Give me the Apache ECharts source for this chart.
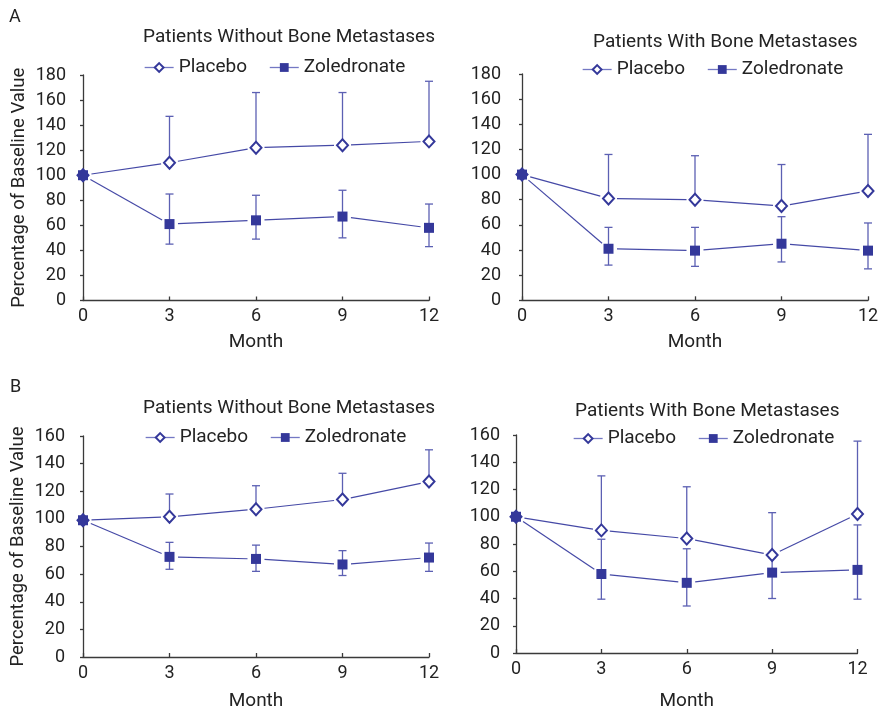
<!DOCTYPE html>
<html>
<head>
<meta charset="utf-8">
<script src="https://cdn.jsdelivr.net/npm/echarts@6/dist/echarts.min.js"></script>
<style>
html,body{margin:0;padding:0;background:#fff;}
#chart{width:883px;height:712px;}
</style>
</head>
<body>
<div id="chart"></div>
<script>
// ---- data ----
var months = [0, 3, 6, 9, 12];

// Panel A, patients without bone metastases
var aNoPlacebo   = [100, 110, 122, 124, 127];
var aNoPlaceboHi = [100, 147, 166, 166, 175];
var aNoZol       = [100, 61, 64, 67, 58];
var aNoZolHi     = [100, 85, 84, 88, 77];
var aNoZolLo     = [100, 45, 49, 50, 43];

// Panel A, patients with bone metastases
var aMetPlacebo   = [100, 81, 80, 75, 87];
var aMetPlaceboHi = [100, 116, 115, 108, 132];
var aMetZol       = [100, 41, 39.5, 45, 39.5];
var aMetZolHi     = [100, 58, 58, 66.5, 61.5];
var aMetZolLo     = [100, 28, 27, 30.5, 25];

// Panel B, patients without bone metastases
var bNoPlacebo   = [99, 101.5, 107, 114, 127];
var bNoPlaceboHi = [99, 118, 124, 133, 150];
var bNoZol       = [99, 72.5, 71, 67, 72];
var bNoZolHi     = [99, 83, 81, 77, 82.5];
var bNoZolLo     = [99, 63.5, 62, 59, 62];

// Panel B, patients with bone metastases
var bMetPlacebo   = [100, 90, 84, 72, 102];
var bMetPlaceboHi = [100, 130, 122, 103, 155.5];
var bMetZol       = [100, 58, 51.5, 59, 61];
var bMetZolHi     = [100, 83.5, 76.5, 70, 94];
var bMetZolLo     = [100, 39.5, 34.5, 40, 39.5];

var titleNo = 'Patients Without Bone Metastases';
var titleMet = 'Patients With Bone Metastases';
var yName = 'Percentage of Baseline Value';
var xName = 'Month';
var seriesNames = ['Placebo', 'Zoledronate'];

// ---- style ----
var FONT = 'Roboto';
var TXT = '#232323';
var AX = '#3a3a3a';
var MARK = '#34389a';
var LINE = '#4549a6';
var ERR = '#5c60b3';

var panels = [
  {pl: aNoPlacebo, plHi: aNoPlaceboHi, zo: aNoZol, zoHi: aNoZolHi, zoLo: aNoZolLo, ymax: 180,
   grid: {left: 83, top: 75, width: 346, height: 225.5}, off: 14, title: titleNo, tl: 138, tt: 23, lgl: 139, lgt: 53, yname: true, xgap: 32},
  {pl: aMetPlacebo, plHi: aMetPlaceboHi, zo: aMetZol, zoHi: aMetZolHi, zoLo: aMetZolLo, ymax: 180,
   grid: {left: 522, top: 74, width: 346, height: 226.3}, off: 18, title: titleMet, tl: 588, tt: 28, lgl: 577, lgt: 55, yname: false, xgap: 32},
  {pl: bNoPlacebo, plHi: bNoPlaceboHi, zo: bNoZol, zoHi: bNoZolHi, zoLo: bNoZolLo, ymax: 160,
   grid: {left: 83, top: 436, width: 346, height: 226.3}, off: 15, title: titleNo, tl: 138, tt: 394, lgl: 140, lgt: 423, yname: true, xgap: 35},
  {pl: bMetPlacebo, plHi: bMetPlaceboHi, zo: bMetZol, zoHi: bMetZolHi, zoLo: bMetZolLo, ymax: 160,
   grid: {left: 516, top: 435, width: 341.5, height: 222.7}, off: 13, title: titleMet, tl: 570, tt: 397, lgl: 568, lgt: 424, yname: false, xgap: 39}
];

function pairs(ys) { return months.map(function (m, i) { return [m, ys[i]]; }); }
function segs(ys) {
  var out = [];
  for (var i = 1; i < months.length; i++) out.push([months[i - 1], ys[i - 1], months[i], ys[i]]);
  return out;
}
function errData(mean, lo, hi) { return months.map(function (m, i) { return [m, mean[i], lo[i], hi[i]]; }); }

// connecting segment, shortened at both ends so it stops short of the markers
function segRender(params, api) {
  var p0 = api.coord([api.value(0), api.value(1)]);
  var p1 = api.coord([api.value(2), api.value(3)]);
  var dx = p1[0] - p0[0], dy = p1[1] - p0[1];
  var len = Math.sqrt(dx * dx + dy * dy);
  var g = 8.5;
  if (len <= 2 * g) return null;
  var ux = dx / len, uy = dy / len;
  return {type: 'line',
    shape: {x1: p0[0] + ux * g, y1: p0[1] + uy * g, x2: p1[0] - ux * g, y2: p1[1] - uy * g},
    style: {stroke: LINE, lineWidth: 1.2}};
}

function errRender(params, api) {
  var x = api.value(0), m = api.value(1), lo = api.value(2), hi = api.value(3);
  var pm = api.coord([x, m]);
  var hw = 4;
  var st = {stroke: ERR, lineWidth: 1.3};
  var ch = [];
  if (hi > m) {
    var ph = api.coord([x, hi]);
    ch.push({type: 'line', shape: {x1: pm[0], y1: pm[1], x2: ph[0], y2: ph[1]}, style: st});
    ch.push({type: 'line', shape: {x1: ph[0] - hw, y1: ph[1], x2: ph[0] + hw, y2: ph[1]}, style: st});
  }
  if (lo < m) {
    var pl = api.coord([x, lo]);
    ch.push({type: 'line', shape: {x1: pm[0], y1: pm[1], x2: pl[0], y2: pl[1]}, style: st});
    ch.push({type: 'line', shape: {x1: pl[0] - hw, y1: pl[1], x2: pl[0] + hw, y2: pl[1]}, style: st});
  }
  return {type: 'group', children: ch};
}

var symPl = {symbol: 'diamond', symbolSize: [11, 12], itemStyle: {color: '#fff', borderColor: MARK, borderWidth: 2}};
var symZo = {symbol: 'rect', symbolSize: 10, itemStyle: {color: MARK, borderColor: MARK, borderWidth: 0}};

var option = {
  animation: false,
  backgroundColor: '#fff',
  textStyle: {fontFamily: FONT},
  title: [
    {text: 'A', left: 4, top: 3, textStyle: {fontFamily: FONT, fontSize: 18, fontWeight: 'normal', color: TXT}},
    {text: 'B', left: 5, top: 373, textStyle: {fontFamily: FONT, fontSize: 18, fontWeight: 'normal', color: TXT}}
  ],
  legend: [], grid: [], xAxis: [], yAxis: [], series: []
};

panels.forEach(function (p, k) {
  option.title.push({text: p.title, left: p.tl, top: p.tt,
    textStyle: {fontFamily: FONT, fontSize: 19, fontWeight: 'normal', color: TXT}});
  option.legend.push({data: seriesNames.slice(), left: p.lgl, top: p.lgt, itemGap: 22, itemWidth: 29, itemHeight: 11,
    textStyle: {fontFamily: FONT, fontSize: 19, color: TXT}});
  option.grid.push(Object.assign({containLabel: false}, p.grid));
  option.xAxis.push({type: 'value', gridIndex: k, min: 0, max: 12, interval: 3,
    name: xName, nameLocation: 'middle', nameGap: p.xgap,
    nameTextStyle: {fontFamily: FONT, fontSize: 19, color: TXT},
    axisLine: {show: true, lineStyle: {color: AX, width: 1.3}},
    axisTick: {show: true, inside: true, length: 4, lineStyle: {color: AX, width: 1.3}},
    axisLabel: {fontFamily: FONT, fontSize: 18, color: TXT, margin: 7},
    splitLine: {show: false}});
  option.yAxis.push({type: 'value', gridIndex: k, min: 0, max: p.ymax, interval: 20, offset: p.off,
    name: p.yname ? yName : '', nameLocation: 'middle', nameGap: 40,
    nameTextStyle: {fontFamily: FONT, fontSize: 18.5, color: TXT},
    axisLine: {show: true, lineStyle: {color: AX, width: 1.3}},
    axisTick: {show: true, inside: false, length: 3, lineStyle: {color: AX, width: 1.3}},
    axisLabel: {fontFamily: FONT, fontSize: 18, color: TXT, margin: 3},
    splitLine: {show: false}});

  // connecting segments with gaps around the markers
  option.series.push({type: 'custom', name: 'segPl', xAxisIndex: k, yAxisIndex: k, z: 2,
    renderItem: segRender, encode: {x: [0, 2], y: [1, 3]}, data: segs(p.pl)});
  option.series.push({type: 'custom', name: 'segZo', xAxisIndex: k, yAxisIndex: k, z: 2,
    renderItem: segRender, encode: {x: [0, 2], y: [1, 3]}, data: segs(p.zo)});
  // error bars
  option.series.push({type: 'custom', name: 'errPl', xAxisIndex: k, yAxisIndex: k, z: 3,
    renderItem: errRender, encode: {x: 0, y: [1, 2, 3]}, data: errData(p.pl, p.pl, p.plHi)});
  option.series.push({type: 'custom', name: 'errZo', xAxisIndex: k, yAxisIndex: k, z: 3,
    renderItem: errRender, encode: {x: 0, y: [1, 2, 3]}, data: errData(p.zo, p.zoLo, p.zoHi)});
  // markers (these carry the legend entries; the line itself is drawn by the segments)
  option.series.push(Object.assign({type: 'line', name: 'Placebo', xAxisIndex: k, yAxisIndex: k, z: 5,
    data: pairs(p.pl), lineStyle: {color: '#7478c4', width: 1.3, opacity: 0}}, symPl));
  option.series.push(Object.assign({type: 'line', name: 'Zoledronate', xAxisIndex: k, yAxisIndex: k, z: 6,
    data: pairs(p.zo), lineStyle: {color: '#7478c4', width: 1.3, opacity: 0}}, symZo));
  option.legend[k].lineStyle = {color: '#7478c4', width: 1.3, opacity: 1};
});

var chart = echarts.init(document.getElementById('chart'), null, {renderer: 'canvas'});
chart.setOption(option);
</script>
</body>
</html>
